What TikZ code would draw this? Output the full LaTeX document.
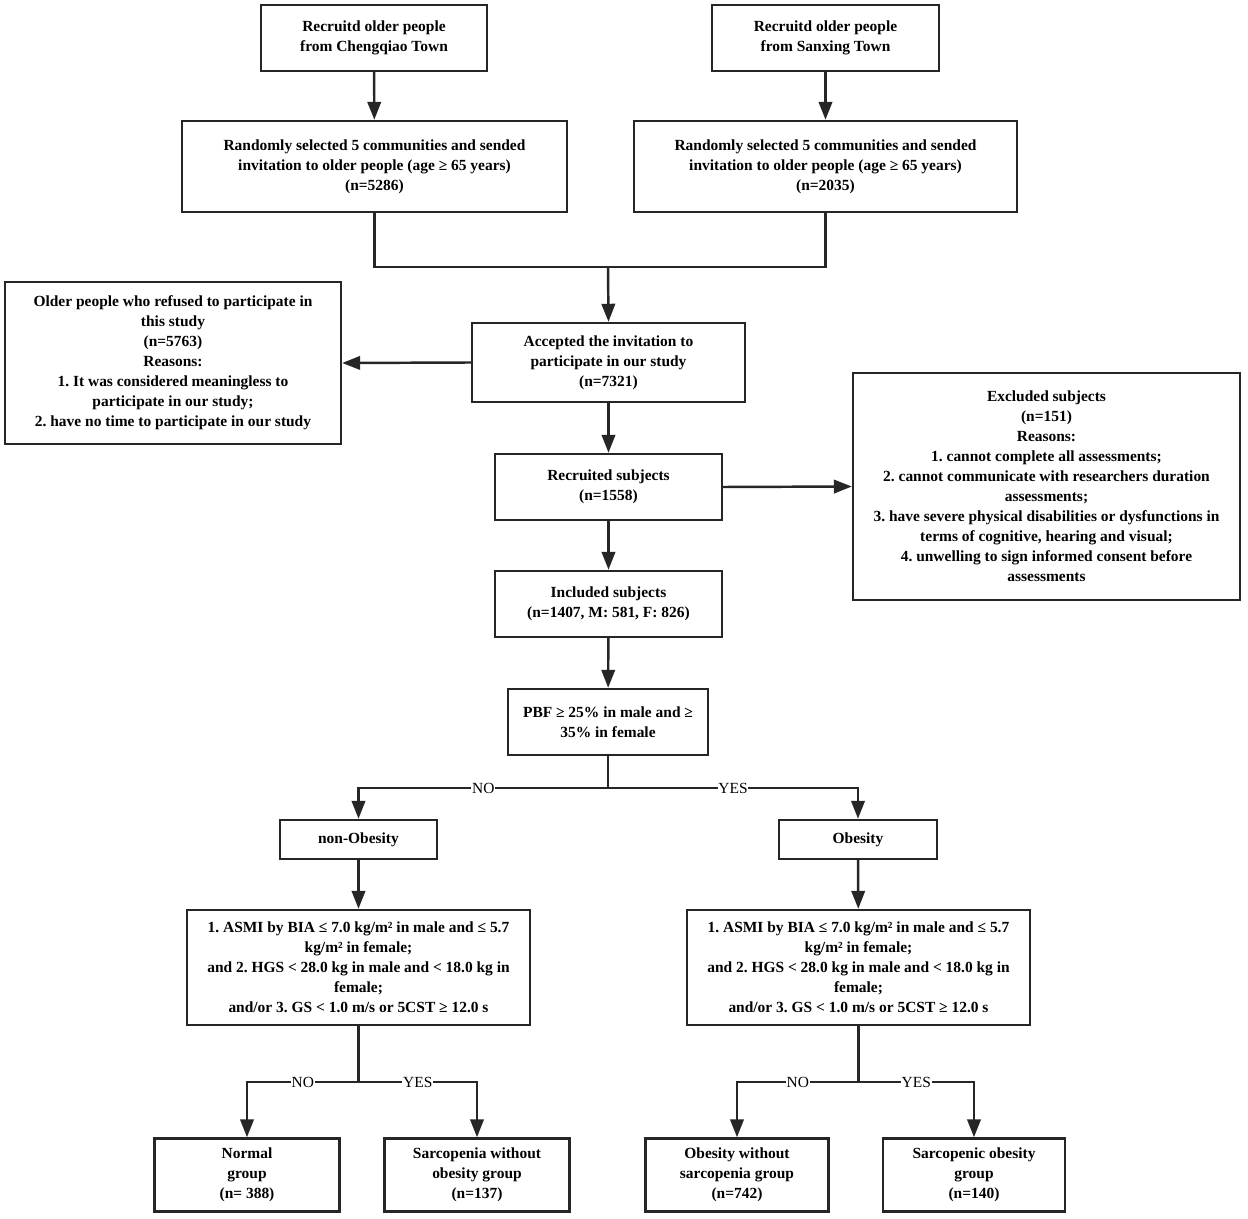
\documentclass[tikz,border=0pt]{standalone}
\usepackage{fontspec}
\setmainfont{Liberation Serif}
\usetikzlibrary{arrows.meta,positioning}
\frenchspacing
\tikzset{box/.style={draw=black!85, line width=1.4pt, align=center, inner sep=2pt,
                     font=\fontsize{8.8}{11.4}\selectfont\bfseries},
         line/.style={draw=black!85, line width=1.4pt},
         arr/.style={line, -{Triangle[length=0.36cm,width=0.27cm]}},
         lbl/.style={fill=white, inner sep=0.5pt, font=\fontsize{8.8}{10}\selectfont}
}

\begin{document}
\begin{tikzpicture}[x=0.02cm, y=-0.02cm]
       \useasboundingbox (0,0) rectangle (1248,1219);
       % recruitment
       \node[box, minimum width=4.52cm, minimum height=1.32cm] (chq) at (374,38) {Recruitd older people\\from Chengqiao Town};
       \node[box, minimum width=4.54cm, minimum height=1.32cm] (sxg) at (825.5,38) {Recruitd older people\\from Sanxing Town};
       \node[box, minimum width=7.7cm, minimum height=1.82cm] (rndL) at (374.5,166.5) {Randomly selected 5 communities and sended\\invitation to older people (age ≥ 65 years)\\(n=5286)};
       \node[box, minimum width=7.66cm, minimum height=1.82cm] (rndR) at (825.5,166.5) {Randomly selected 5 communities and sended\\invitation to older people (age ≥ 65 years)\\(n=2035)};
       \node[box, minimum width=5.46cm, minimum height=1.58cm] (acc) at (608.5,362.5) {Accepted the invitation to\\participate in our study\\(n=7321)};
       \node[box, minimum width=6.72cm, minimum height=3.24cm] (ref) at (173,363) {Older people who refused to participate in\\this study\\(n=5763)\\Reasons:\\1. It was considered meaningless to\\participate in our study;\\2. have no time to participate in our study};
       \node[box, minimum width=4.54cm, minimum height=1.32cm] (rec) at (608.5,487) {Recruited subjects\\(n=1558)};
       \node[box, minimum width=7.74cm, minimum height=4.54cm] (exc) at (1046.5,486.5) {Excluded subjects\\(n=151)\\Reasons:\\1. cannot complete all assessments;\\2. cannot communicate with researchers duration\\assessments;\\3. have severe physical disabilities or dysfunctions in\\terms of cognitive, hearing and visual;\\4. unwelling to sign informed consent before\\assessments};
       \node[box, minimum width=4.54cm, minimum height=1.32cm] (inc) at (608.5,604) {Included subjects\\(n=1407, M: 581, F: 826)};
       \node[box, minimum width=4cm, minimum height=1.32cm] (pbf) at (608,722) {PBF ≥ 25\% in male and ≥\\35\% in female};
       % obesity split
       \node[box, minimum width=3.14cm, minimum height=0.78cm] (nob) at (358.5,839.5) {non-Obesity};
       \node[box, minimum width=3.16cm, minimum height=0.78cm] (ob) at (858,839.5) {Obesity};
       \node[box, minimum width=6.86cm, minimum height=2.3cm] (asmL) at (358.5,967.5) {1. ASMI by BIA ≤ 7.0 kg/m² in male and ≤ 5.7\\kg/m² in female;\\and 2. HGS < 28.0 kg in male and < 18.0 kg in\\female;\\and/or 3. GS < 1.0 m/s or 5CST ≥ 12.0 s};
       \node[box, minimum width=6.86cm, minimum height=2.3cm] (asmR) at (858.5,967.5) {1. ASMI by BIA ≤ 7.0 kg/m² in male and ≤ 5.7\\kg/m² in female;\\and 2. HGS < 28.0 kg in male and < 18.0 kg in\\female;\\and/or 3. GS < 1.0 m/s or 5CST ≥ 12.0 s};
       % groups
       \node[box, minimum width=3.7cm, minimum height=1.46cm] (nrm) at (247,1175) {Normal\\group\\(n= 388)};
       \node[box, minimum width=3.7cm, minimum height=1.46cm] (sar) at (477,1175) {Sarcopenia without\\obesity group\\(n=137)};
       \node[box, minimum width=3.66cm, minimum height=1.46cm] (obw) at (737,1175) {Obesity without\\sarcopenia group\\(n=742)};
       \node[box, minimum width=3.64cm, minimum height=1.46cm] (sob) at (974,1175) {Sarcopenic obesity\\group\\(n=140)};
       \coordinate (mrg) at (608,267);
       \coordinate (br1) at (608,788);
       \coordinate (br2) at (358.5,1082);
       \coordinate (br3) at (858.5,1082);
       \draw[arr] (chq) -- (rndL);
       \draw[arr] (sxg) -- (rndR);
       \draw[line] (rndL.south) |- (mrg) -| (rndR.south);
       \draw[arr] (mrg) -- (acc.north);
       \draw[arr] (acc.west) -- (ref.east);
       \draw[arr] (acc) -- (rec);
       \draw[arr] (rec.east) -- (exc.west);
       \draw[arr] (rec) -- (inc);
       \draw[arr] (inc) -- (pbf);
       \draw[line] (pbf.south) -- (br1);
       \draw[arr] (br1) -| node[lbl, pos=0.25] (no1) {NO} (nob.north);
       \draw[arr] (br1) -| node[lbl, pos=0.25] (yes1) {YES} (ob.north);
       \draw[arr] (nob) -- (asmL);
       \draw[arr] (ob) -- (asmR);
       \draw[line] (asmL.south) -- (br2);
       \draw[line] (asmR.south) -- (br3);
       \draw[arr] (br2) -| node[lbl, pos=0.25] (no2) {NO} (nrm.north);
       \draw[arr] (br2) -| node[lbl, pos=0.25] (yes2) {YES} (sar.north);
       \draw[arr] (br3) -| node[lbl, pos=0.25] (no3) {NO} (obw.north);
       \draw[arr] (br3) -| node[lbl, pos=0.25] (yes3) {YES} (sob.north);
\end{tikzpicture}
\end{document}
